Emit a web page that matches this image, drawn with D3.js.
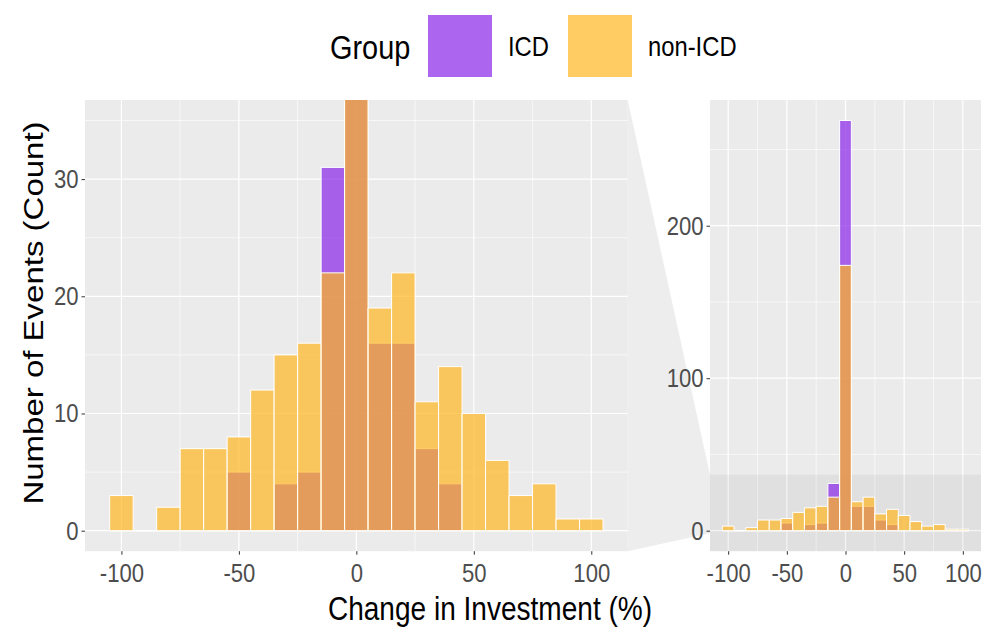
<!DOCTYPE html>
<html><head><meta charset="utf-8">
<script src="https://cdn.jsdelivr.net/npm/d3@7"></script>
<style>body{margin:0;background:#fff}svg{display:block;font-family:"Liberation Sans",Arial,sans-serif}</style>
</head><body><svg id="c" width="986" height="631"></svg>
<script>
// ---- data ----
const binCenters = [-100,-90,-80,-70,-60,-50,-40,-30,-20,-10,0,10,20,30,40,50,60,70,80,90,100];
const icdCounts  = [0,0,0,0,0,5,0,4,5,31,269,16,16,7,4,0,0,0,0,0,0];
const nonIcdCounts = [3,0,2,7,7,8,12,15,16,22,174,19,22,11,14,10,6,3,4,1,1];
const groups = ["ICD","non-ICD"];
const xTicks = [-100,-50,0,50,100];
const xMinor = [-75,-25,25,75];
const leftYTicks = [0,10,20,30];
const leftYMinor = [5,15,25,35];
const rightYTicks = [0,100,200];
const rightYMinor = [50,150,250];
const zoomYLim = [0,35];

const binWidth = 10;
const purple = "#8823E7", yellow = "#FFB622", alpha = 0.7;
const SX = 0.85;
const svg = d3.select("#c");

const xDomain = [-115.5,115.5];
const L = {x0:85, x1:627.7, y0:100, y1:551.2};
const R = {x0:710, x1:981, y0:100, y1:551.2};
const zr = zoomYLim[1]-zoomYLim[0];
const xL = d3.scaleLinear().domain(xDomain).range([L.x0,L.x1]);
const yL = d3.scaleLinear().domain([zoomYLim[0]-0.05*zr, zoomYLim[1]+0.05*zr]).range([L.y1,L.y0]);
const maxAll = d3.max(icdCounts.concat(nonIcdCounts));
const xR = d3.scaleLinear().domain(xDomain).range([R.x0,R.x1]);
const yR = d3.scaleLinear().domain([-0.05*maxAll, maxAll*1.05]).range([R.y1,R.y0]);

// connecting polygon
svg.append("path")
  .attr("d", `M${L.x1},${L.y0}L${R.x0},${yR(yL.domain()[1])}L${R.x0},${yR(yL.domain()[0])}L${L.x1},${L.y1}Z`)
  .attr("fill","#EDEDED");

function panel(P, x, y, yT, yM, id, highlight){
  const g = svg.append("g");
  g.append("rect").attr("x",P.x0).attr("y",P.y0).attr("width",P.x1-P.x0).attr("height",P.y1-P.y0).attr("fill","#EBEBEB");
  yM.forEach(v=>{ if(y(v)>=P.y0) g.append("line").attr("x1",P.x0).attr("x2",P.x1).attr("y1",y(v)).attr("y2",y(v)).attr("stroke","#fff").attr("stroke-width",0.6);});
  xMinor.forEach(v=>g.append("line").attr("x1",x(v)).attr("x2",x(v)).attr("y1",P.y0).attr("y2",P.y1).attr("stroke","#fff").attr("stroke-width",0.6));
  yT.forEach(v=>g.append("line").attr("x1",P.x0).attr("x2",P.x1).attr("y1",y(v)).attr("y2",y(v)).attr("stroke","#fff").attr("stroke-width",1.2));
  xTicks.forEach(v=>g.append("line").attr("x1",x(v)).attr("x2",x(v)).attr("y1",P.y0).attr("y2",P.y1).attr("stroke","#fff").attr("stroke-width",1.2));
  if(highlight){
    g.append("rect").attr("x",P.x0).attr("width",P.x1-P.x0)
     .attr("y",y(yL.domain()[1])).attr("height",P.y1-y(yL.domain()[1]))
     .attr("fill","#000").attr("fill-opacity",0.045);
  }
  svg.append("clipPath").attr("id",id).append("rect").attr("x",P.x0).attr("y",P.y0).attr("width",P.x1-P.x0).attr("height",P.y1-P.y0);
  const bars = svg.append("g").attr("clip-path",`url(#${id})`);
  [[icdCounts,purple],[nonIcdCounts,yellow]].forEach(([vals,col])=>{
    bars.selectAll(null).data(binCenters.map((c,i)=>({c,v:vals[i]}))).enter().append("path")
      .attr("d",d=>{const a=x(d.c-binWidth/2), b=x(d.c+binWidth/2), t=y(d.v), z=y(0); return `M${a},${z}L${a},${t}L${b},${t}L${b},${z}Z`;})
      .attr("fill",col).attr("fill-opacity",alpha).attr("stroke","#fff").attr("stroke-width",1);
  });
  const fmt = d=>String(d);
  const ax = svg.append("g").attr("transform",`translate(0,${P.y1})`).call(d3.axisBottom(x).tickValues(xTicks).tickFormat(fmt).tickSize(3.5).tickPadding(4));
  const ay = svg.append("g").attr("transform",`translate(${P.x0},0)`).call(d3.axisLeft(y).tickValues(yT).tickFormat(fmt).tickSize(3.5).tickPadding(3));
  [ax,ay].forEach(a=>{a.select(".domain").remove(); a.selectAll(".tick line").attr("stroke","#333");
    a.selectAll(".tick text").attr("fill","#4D4D4D").attr("font-size",26).attr("font-family","Liberation Sans, Arial, sans-serif");});
  ax.selectAll(".tick text").attr("dy","0.88em").attr("transform",`scale(${SX},1)`).attr("x",0);
  ay.selectAll(".tick text").attr("transform",`scale(${SX},1)`).attr("x",-6.5/SX);
}
panel(L,xL,yL,leftYTicks,leftYMinor,"clipL",false);
panel(R,xR,yR,rightYTicks,rightYMinor,"clipR",true);

// axis titles
svg.append("text").attr("transform",`translate(490,620) scale(${SX},1)`).attr("text-anchor","middle")
  .attr("font-size",33).attr("fill","#000").text("Change in Investment (%)");
svg.append("text").attr("transform",`translate(43,313) scale(${SX},1) rotate(-90)`).attr("text-anchor","middle")
  .attr("font-size",33).attr("fill","#000").text("Number of Events (Count)");

// legend
const lg = svg.append("g");
lg.append("text").attr("transform",`translate(330,59) scale(${SX},1)`).attr("font-size",34).text("Group");
const lx = [428,568];
groups.forEach((gname,i)=>{
  lg.append("rect").attr("x",lx[i]).attr("y",15).attr("width",64).attr("height",62)
    .attr("fill",i===0?purple:yellow).attr("fill-opacity",alpha);
  lg.append("text").attr("transform",`translate(${lx[i]+80},56) scale(${SX},1)`).attr("font-size",28).text(gname);
});
</script></body></html>
